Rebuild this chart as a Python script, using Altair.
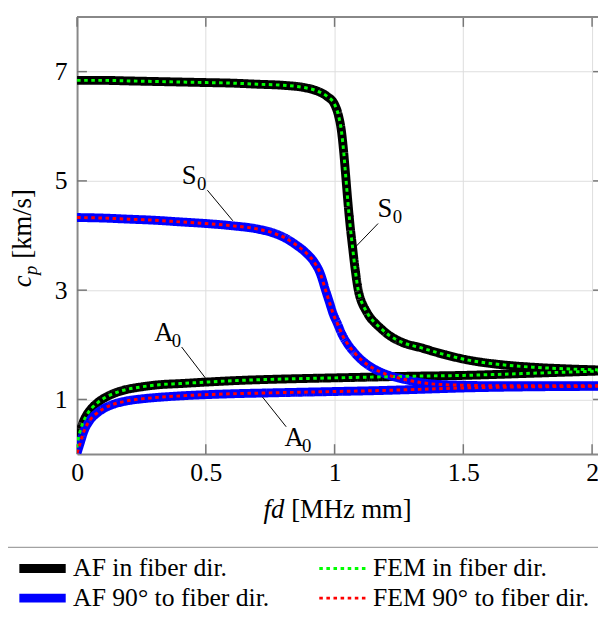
import altair as alt
import pandas as pd

# ---------------- data ----------------
s0_fiber_x = [0, 0.1, 0.2, 0.3, 0.4, 0.5, 0.6, 0.7, 0.8, 0.88, 0.93, 0.97, 1.0, 1.015, 1.027,
              1.036, 1.044, 1.052, 1.06, 1.07, 1.08, 1.092, 1.1, 1.109, 1.119, 1.138, 1.155,
              1.175, 1.21, 1.26, 1.34, 1.42, 1.52, 1.64, 1.77, 1.9, 2.03]
s0_fiber_y = [6.84, 6.84, 6.83, 6.82, 6.81, 6.80, 6.79, 6.77, 6.75, 6.71, 6.65, 6.55, 6.40, 6.20, 5.90,
              5.50, 5.05, 4.60, 4.20, 3.78, 3.38, 3.00, 2.85, 2.74, 2.65, 2.50, 2.41,
              2.32, 2.18, 2.05, 1.94, 1.83, 1.72, 1.64, 1.59, 1.56, 1.54]

s0_90_x = [0, 0.1, 0.2, 0.3, 0.4, 0.5, 0.6, 0.7, 0.76, 0.81, 0.85, 0.89, 0.92, 0.945, 0.965,
           0.98, 0.995, 1.01, 1.03, 1.05, 1.08, 1.11, 1.15, 1.2, 1.26, 1.32, 1.39, 1.5, 1.65,
           1.8, 2.03]
s0_90_y = [4.33, 4.32, 4.30, 4.28, 4.25, 4.22, 4.18, 4.12, 4.05, 3.95, 3.83, 3.68, 3.52, 3.30, 3.00,
           2.78, 2.56, 2.40, 2.18, 2.02, 1.84, 1.70, 1.57, 1.46, 1.38, 1.32, 1.28, 1.26, 1.25,
           1.25, 1.25]

a0_fiber_x = [0, 0.004, 0.012, 0.025, 0.038, 0.055, 0.077, 0.1, 0.128, 0.16, 0.19, 0.25, 0.32,
              0.4, 0.51, 0.64, 0.77, 0.9, 1.0, 1.15, 1.3, 1.5, 1.77, 2.03]
a0_fiber_y = [0.12, 0.26, 0.42, 0.60, 0.72, 0.83, 0.93, 1.01, 1.08, 1.14, 1.18, 1.23, 1.27,
              1.29, 1.32, 1.35, 1.37, 1.385, 1.395, 1.41, 1.425, 1.44, 1.48, 1.52]

a0_90_x = [0, 0.004, 0.012, 0.026, 0.05, 0.075, 0.102, 0.14, 0.19, 0.25, 0.32, 0.42, 0.575,
           0.75, 1.0, 1.15, 1.3, 1.5, 1.75, 2.03]
a0_90_y = [0.02, 0.08, 0.20, 0.41, 0.62, 0.74, 0.83, 0.91, 0.97, 1.01, 1.04, 1.07, 1.10,
           1.12, 1.145, 1.16, 1.18, 1.21, 1.23, 1.24]

# legend order (filled column by column): AF fiber, AF 90, FEM fiber, FEM 90
series_names = ["AF in fiber dir.", "AF 90° to fiber dir.",
                "FEM in fiber dir.", "FEM 90° to fiber dir."]
series_colors = ["#000000", "#0000ff", "#00ff00", "#ff0000"]
series_dash = [[1, 0], [1, 0], [3.6, 3.6], [3.6, 3.6]]
series_width = [9, 9, 3, 3]

x_ticks = [0, 0.5, 1, 1.5, 2]
y_ticks = [1, 3, 5, 7]

# mode labels and leader lines
label_letter = ["S", "S", "A", "A"]
label_x = [0.435, 1.195, 0.337, 0.843]
label_y = [5.09, 4.49, 2.21, 0.29]
lead_x = [0.506, 1.169, 0.406, 0.72]
lead_y = [4.83, 4.22, 1.96, 1.045]
lead_x2 = [0.605, 1.077, 0.502, 0.812]
lead_y2 = [4.27, 3.77, 1.37, 0.50]

# ---------------- build table ----------------
curves = {
    "fiber": [("S0", s0_fiber_x, s0_fiber_y), ("A0", a0_fiber_x, a0_fiber_y)],
    "90": [("S0", s0_90_x, s0_90_y), ("A0", a0_90_x, a0_90_y)],
}
series_curves = {
    series_names[0]: "fiber", series_names[1]: "90",
    series_names[2]: "fiber", series_names[3]: "90",
}
rows = []
for s in series_names:
    for mode, xs, ys in curves[series_curves[s]]:
        for i, (a, b) in enumerate(zip(xs, ys)):
            rows.append({"series": s, "mode": mode, "x": a, "y": b, "i": i})
df = pd.DataFrame(rows)

W, H = 528, 443
FONT = "Liberation Serif"

xscale = alt.Scale(domain=[0, 2.023], nice=False, zero=False)
yscale = alt.Scale(domain=[0, 8], nice=False, zero=False)
xaxis = alt.Axis(values=x_ticks, title=None, labelPadding=6, labelFlush=False, format="~g",
                 labelFont=FONT, labelFontSize=26)
yaxis = alt.Axis(values=y_ticks, title=None, labelPadding=10, labelFlush=False, format="~g",
                 labelFont=FONT, labelFontSize=26)


def X(f):
    return alt.X(f, type="quantitative", scale=xscale, axis=xaxis)


def Y(f):
    return alt.Y(f, type="quantitative", scale=yscale, axis=yaxis)


leg = alt.Legend(title=None)
color = alt.Color("series:N", scale=alt.Scale(type="ordinal", domain=series_names, range=series_colors), legend=leg)
dash = alt.StrokeDash("series:N", scale=alt.Scale(type="ordinal", domain=series_names, range=series_dash), legend=leg)
swidth = alt.StrokeWidth("series:N", scale=alt.Scale(type="ordinal", domain=series_names, range=series_width), legend=leg)


def line_layer(name):
    return alt.Chart(df).transform_filter(alt.datum.series == name).mark_line(
        interpolate="monotone", clip=True
    ).encode(x=X("x"), y=Y("y"), color=color, strokeDash=dash, strokeWidth=swidth,
             detail="mode:N", order="i:Q")


tick_x = pd.DataFrame({"v": x_ticks})
tick_y = pd.DataFrame({"v": y_ticks})
TC = "#777777"
bottom_ticks = alt.Chart(tick_x).mark_rule(color=TC, strokeWidth=1.5).encode(
    x=X("v"), y=alt.value(H), y2=alt.value(H - 10))
top_ticks = alt.Chart(tick_x).mark_rule(color=TC, strokeWidth=1.5).encode(
    x=X("v"), y=alt.value(0), y2=alt.value(10))
left_ticks = alt.Chart(tick_y).mark_rule(color=TC, strokeWidth=1.5).encode(
    y=Y("v"), x=alt.value(0), x2=alt.value(10))
right_ticks = alt.Chart(tick_y).mark_rule(color=TC, strokeWidth=1.5).encode(
    y=Y("v"), x=alt.value(W - 5), x2=alt.value(W))
top_border = alt.Chart(tick_x).mark_rule(color="#888888", strokeWidth=2).encode(
    x=alt.value(0), x2=alt.value(W), y=alt.value(0))

ann = pd.DataFrame({"letter": label_letter, "x": label_x, "y": label_y,
                    "lx": lead_x, "ly": lead_y, "lx2": lead_x2, "ly2": lead_y2})
leaders = alt.Chart(ann).mark_rule(color="black", strokeWidth=1).encode(
    x=X("lx"), y=Y("ly"), x2="lx2:Q", y2="ly2:Q")
letters = alt.Chart(ann).mark_text(font=FONT, fontSize=27, align="center", baseline="middle",
                                   color="black").encode(x=X("x"), y=Y("y"), text="letter:N")
subs = alt.Chart(ann).mark_text(font=FONT, fontSize=19, align="left", baseline="middle",
                                dx=8, dy=8, color="black", text="0").encode(x=X("x"), y=Y("y"))

one = pd.DataFrame({"k": [0]})


def txt(t, x, y, size=27, style="normal", angle=0):
    props = dict(text=t, font=FONT, fontSize=size, align="left", baseline="alphabetic",
                 color="black", fontStyle=style)
    if angle:
        props["angle"] = angle
    return alt.Chart(one).mark_text(**props).encode(x=alt.value(x), y=alt.value(y))


xtitle = [txt("fd", 189, 508, style="italic"), txt("[MHz mm]", 217, 508)]
ytitle = [txt("c", -47, 274, style="italic", angle=270),
          txt("p", -41, 261.5, size=19, style="italic", angle=270),
          txt("[km/s]", -47, 245, angle=270)]

chart = alt.layer(
    bottom_ticks, top_ticks, left_ticks, right_ticks,
    line_layer(series_names[0]), line_layer(series_names[1]),
    line_layer(series_names[2]), line_layer(series_names[3]),
    leaders, letters, subs, top_border, *xtitle, *ytitle
).properties(
    width=W, height=H,
    autosize=alt.AutoSizeParams(type="none"),
    padding={"left": 70, "top": 5, "right": 0, "bottom": 160},
).configure(
    font=FONT,
    style={"guide-label": {"font": FONT}, "guide-title": {"font": FONT}, "text": {"font": FONT}},
).configure_view(stroke=None).configure_axis(
    grid=True, gridColor="#dddddd", gridWidth=1, ticks=False,
    domainColor="#888888", domainWidth=2,
    labelFont=FONT, labelFontSize=26, labelColor="black",
).configure_text(font=FONT).configure_legend(
    orient="none", legendX=-72, legendY=537, direction="vertical", columns=2,
    symbolType="stroke", symbolSize=2209, clipHeight=26,
    labelFont=FONT, labelFontSize=26, labelColor="black", labelOffset=3,
    padding=9, rowPadding=4, columnPadding=46,
    strokeColor="#888888", fillColor="white", labelLimit=400,
)

chart.save("out.html", embed_options={"renderer": "svg", "actions": False})
